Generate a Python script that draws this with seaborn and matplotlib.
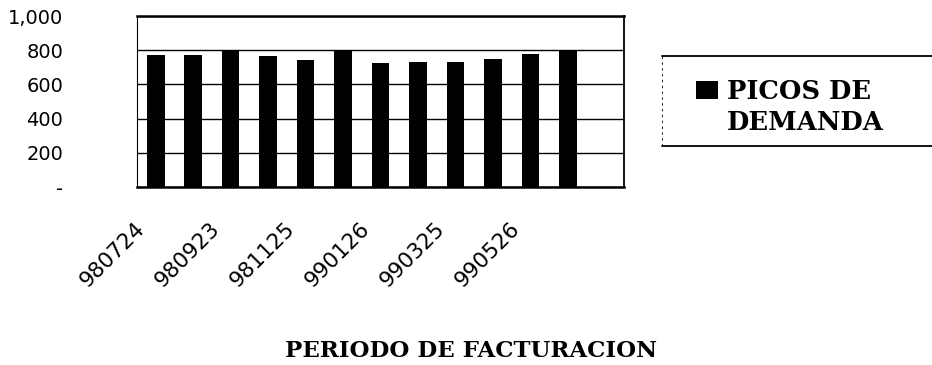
import matplotlib
matplotlib.use("Agg")
import matplotlib.pyplot as plt
import matplotlib.transforms as mtransforms
from matplotlib.patches import Patch
from matplotlib.lines import Line2D
import seaborn as sns

# Monthly demand peaks, July 1998 - June 1999
picos = [770, 774, 795, 767, 745, 794, 725, 729, 731, 751, 780, 800]
meses = list(range(len(picos)))
etiquetas = ["980724", "980923", "981125", "990126", "990325", "990526"]
yticks = [0, 200, 400, 600, 800, 1000]
ytick_labels = ["-", "200", "400", "600", "800", "1,000"]
serie = "PICOS DE DEMANDA"
titulo_x = "PERIODO DE FACTURACION"

sns.set_theme(style="white")
plt.rcParams["font.family"] = ["DejaVu Sans"]

W, H = 932, 365
fig = plt.figure(figsize=(W / 100, H / 100), dpi=100)
ax = fig.add_axes([137 / W, 1 - 187 / H, 487 / W, 171 / H])

sns.barplot(x=meses, y=picos, color="black", saturation=1, width=0.47,
            edgecolor="none", linewidth=0, ax=ax, zorder=3)

ax.set_xlim(-0.5, 12.5)
ax.set_ylim(0, 1000)

# horizontal grid
ax.set_yticks(yticks)
ax.set_yticklabels(ytick_labels)
ax.grid(axis="y", color="black", linewidth=1.0, zorder=0)
ax.grid(axis="x", visible=False)
for s in ax.spines.values():
    s.set_visible(True)
    s.set_color("black")
    s.set_linewidth(1.3)
ax.spines["top"].set_linewidth(1.8)
ax.spines["bottom"].set_linewidth(1.8)
ax.spines["left"].set_linewidth(0.8)

ax.tick_params(axis="y", length=0, pad=53, labelsize=14, colors="black")

ax.set_xticks(meses[::2])
ax.set_xticklabels(etiquetas, rotation=45, ha="right", va="center",
                   rotation_mode="anchor", fontsize=15.5, color="black")
ax.tick_params(axis="x", length=0, pad=28)
shift = mtransforms.ScaledTranslation(-14 / 100, 0, fig.dpi_scale_trans)
for lab in ax.get_xticklabels():
    lab.set_transform(lab.get_transform() + shift)

ax.set_xlabel(titulo_x, family="DejaVu Serif", fontsize=16.5, fontweight="bold",
              color="black")
ax.xaxis.set_label_coords(0.505, 1 - 351 / H, transform=fig.transFigure)
ax.xaxis.label.set_va("center")
ax.set_ylabel("")

# legend: two text rows with the swatch beside the first
partes = serie.split(" ", 2)
fila1 = " ".join(partes[:2])
fila2 = partes[2]
leg = ax.legend(handles=[Patch(facecolor="black", edgecolor="none"),
                         Patch(facecolor="none", edgecolor="none")],
                labels=[fila1, fila2],
                loc="upper left", bbox_to_anchor=(696 / W, 1 - 79 / H),
                bbox_transform=fig.transFigure, frameon=False,
                prop={"family": "DejaVu Serif", "size": 18.5, "weight": "bold"},
                handlelength=0.85, handleheight=0.75, handletextpad=0.35,
                labelspacing=0.22, borderpad=0, borderaxespad=0)
for t in leg.get_texts():
    t.set_color("black")

# legend box rules
fig.add_artist(Line2D([662 / W, 1], [1 - 56 / H] * 2, transform=fig.transFigure,
                      color="black", linewidth=1.3))
fig.add_artist(Line2D([662 / W, 1], [1 - 146 / H] * 2, transform=fig.transFigure,
                      color="black", linewidth=1.3))
fig.add_artist(Line2D([662 / W] * 2, [1 - 56 / H, 1 - 146 / H], transform=fig.transFigure,
                      color="black", linewidth=0.6, linestyle=(0, (3, 4))))

fig.savefig("out.png", dpi=100, facecolor="white")
